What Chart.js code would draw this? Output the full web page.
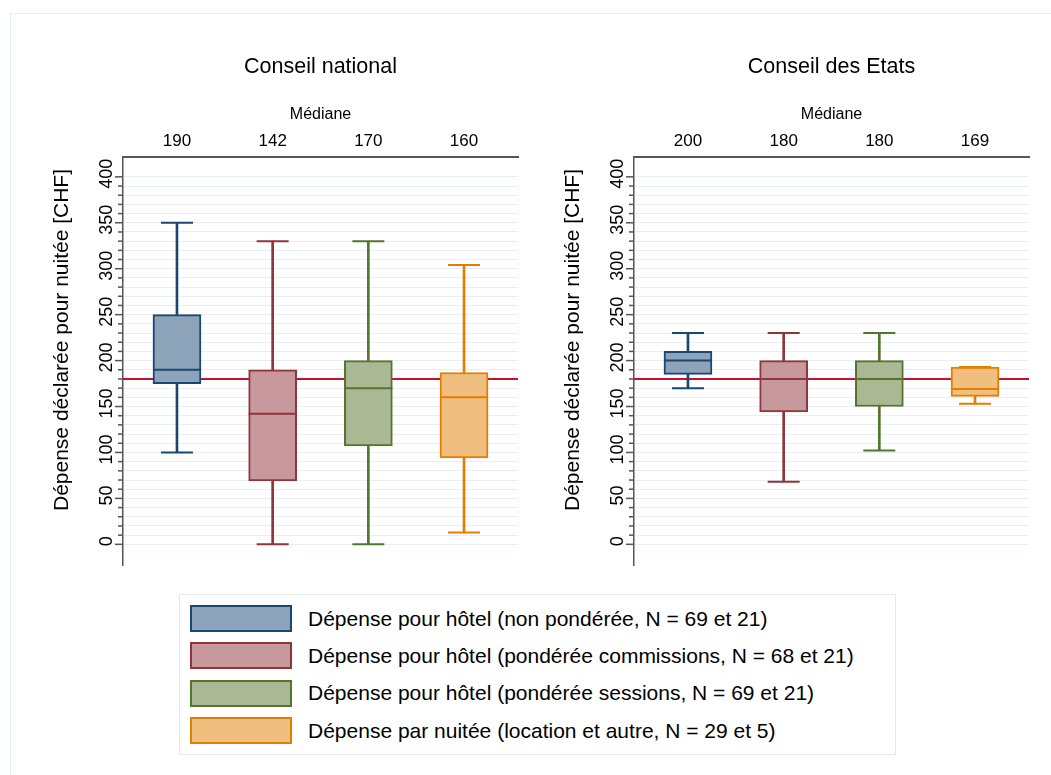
<!DOCTYPE html>
<html>
<head>
<meta charset="utf-8">
<script src="https://cdn.jsdelivr.net/npm/chart.js@4.4.1/dist/chart.umd.min.js"></script>
<style>
  body { margin: 0; background: #fff; font-family: 'Liberation Sans', Arial, sans-serif; }
  #page { position: relative; width: 1051px; height: 775px; overflow: hidden; background: #fff; }
  #frame { position: absolute; left: 10px; top: 13px; width: 1100px; height: 800px; border: 1px solid #e8eeee; }
  .panel { position: absolute; top: 0; width: 530px; height: 580px; }
  .panel canvas { display: block; }
  #legend { position: absolute; left: 179px; top: 594px; width: 715px; height: 159px; border: 1px solid #e2e9e9; background: #fff; }
  .item { position: absolute; left: 10px; height: 27px; display: flex; align-items: center; white-space: nowrap; }
  .swatch { width: 98px; height: 23px; border: 2px solid; margin-right: 16px; }
  .item span { font-size: 21px; color: #000; }
</style>
</head>
<body>
<div id="page">
  <div id="frame"></div>
  <div class="panel" style="left:0px"><canvas id="cn" width="530" height="580"></canvas></div>
  <div class="panel" style="left:511px"><canvas id="ce" width="530" height="580"></canvas></div>
  <div id="legend"></div>
</div>
<script>
// Données
const positions = [1, 2, 3, 4];
const seriesLabels = [
  'Dépense pour hôtel (non pondérée, N = 69 et 21)',
  'Dépense pour hôtel (pondérée commissions, N = 68 et 21)',
  'Dépense pour hôtel (pondérée sessions, N = 69 et 21)',
  'Dépense par nuitée (location et autre, N = 29 et 5)'
];
const panelTitles = ['Conseil national', 'Conseil des Etats'];

// Conseil national
const cnMin = [100, 0, 0, 13];
const cnQ1 = [175, 69, 107, 94];
const cnMedian = [190, 142, 170, 160];
const cnQ3 = [250, 190, 200, 187];
const cnMax = [350, 330, 330, 304];

// Conseil des Etats
const ceMin = [170, 68, 102, 153];
const ceQ1 = [185, 144, 150, 161];
const ceMedian = [200, 180, 180, 169];
const ceQ3 = [210, 200, 200, 193];
const ceMax = [230, 230, 230, 193];

const referenceLine = 180;
const yLabelTicks = [0, 50, 100, 150, 200, 250, 300, 350, 400];
const yGridTicks = [0, 10, 20, 30, 40, 50, 60, 70, 80, 90, 100, 110, 120, 130, 140, 150, 160, 170, 180, 190,
  200, 210, 220, 230, 240, 250, 260, 270, 280, 290, 300, 310, 320, 330, 340, 350, 360, 370, 380, 390, 400];
const yTitle = 'Dépense déclarée pour nuitée [CHF]';

// Couleurs
const lineColors = ['#1a476f', '#90353b', '#55752f', '#e37e00'];
const fillColors = ['#8ca3b9', '#c8999c', '#aab894', '#f0bf7f'];
const refColor = '#c8102e';
const axisColor = '#555555';
const gridColor = '#e7eff0';
const FONT = "'Liberation Sans', Arial, sans-serif";

const X_MIN = 0.436, X_MAX = 4.564;

// axe Y dessiné à la main (étiquettes verticales, petites graduations)
const yAxisDecor = {
  id: 'yAxisDecor',
  afterDraw(chart) {
    const ctx = chart.ctx;
    const y = chart.scales.y;
    const left = chart.chartArea.left;
    ctx.save();
    ctx.strokeStyle = axisColor;
    ctx.lineWidth = 1.5;
    yGridTicks.forEach(v => {
      const py = y.getPixelForValue(v);
      const len = yLabelTicks.includes(v) ? 8 : 5;
      ctx.beginPath();
      ctx.moveTo(left - len, py);
      ctx.lineTo(left, py);
      ctx.stroke();
    });
    ctx.fillStyle = '#000';
    ctx.font = '18px ' + FONT;
    ctx.textAlign = 'center';
    ctx.textBaseline = 'alphabetic';
    yLabelTicks.forEach(v => {
      const py = y.getPixelForValue(v) - 3;
      ctx.save();
      ctx.translate(left - 11.5, py);
      ctx.rotate(-Math.PI / 2);
      ctx.fillText(String(v), 0, 0);
      ctx.restore();
    });
    ctx.font = '21px ' + FONT;
    ctx.save();
    ctx.translate(left - 55, 340);
    ctx.rotate(-Math.PI / 2);
    ctx.fillText(yTitle, 0, 0);
    ctx.restore();
    ctx.restore();
  }
};

function makePanel(id, title, mins, q1, medians, q3, maxs) {
  const ctx = document.getElementById(id).getContext('2d');
  const capPoints = [];
  const capColors = [];
  positions.forEach((p, i) => {
    capPoints.push({x: p, y: mins[i]}, {x: p, y: maxs[i]});
    capColors.push(lineColors[i], lineColors[i]);
  });

  return new Chart(ctx, {
    type: 'bar',
    data: {
      datasets: [
        {
          type: 'line',
          data: [{x: X_MIN, y: referenceLine}, {x: X_MAX, y: referenceLine}],
          borderColor: refColor,
          borderWidth: 2,
          pointRadius: 0,
          order: 5
        },
        {
          // moustaches
          data: positions.map((p, i) => ({x: p, y: [mins[i], maxs[i]]})),
          backgroundColor: lineColors,
          borderWidth: 0,
          barThickness: 2,
          grouped: false,
          categoryPercentage: 1,
          barPercentage: 1,
          order: 4
        },
        {
          // boites
          data: positions.map((p, i) => ({x: p, y: [q1[i], q3[i]]})),
          backgroundColor: fillColors,
          borderColor: lineColors,
          borderWidth: 2,
          borderSkipped: false,
          barThickness: 48,
          grouped: false,
          categoryPercentage: 1,
          barPercentage: 1,
          order: 3
        },
        {
          type: 'line',
          data: capPoints,
          showLine: false,
          pointStyle: 'line',
          pointRadius: 16,
          pointBorderWidth: 2,
          pointBorderColor: capColors,
          order: 2
        },
        {
          type: 'line',
          data: positions.map((p, i) => ({x: p, y: medians[i]})),
          showLine: false,
          pointStyle: 'line',
          pointRadius: 24,
          pointBorderWidth: 2,
          pointBorderColor: lineColors,
          order: 1
        }
      ]
    },
    options: {
      responsive: false,
      animation: false,
      events: [],
      layout: { autoPadding: false, padding: { left: 0, right: 12, top: 0, bottom: 15 } },
      scales: {
        x: {
          type: 'linear',
          position: 'top',
          offset: false,
          min: X_MIN,
          max: X_MAX,
          afterBuildTicks: axis => { axis.ticks = positions.map(v => ({value: v})); },
          afterFit: axis => { axis.height = 76.8; },
          ticks: {
            autoSkip: false,
            maxRotation: 0,
            padding: 5.6,
            color: '#000',
            font: { family: FONT, size: 17 },
            callback: (v, i) => String(medians[i])
          },
          grid: { display: false, offset: false, drawTicks: false, tickLength: 0 },
          border: { display: true, color: axisColor, width: 2 },
          title: {
            display: true,
            text: 'Médiane',
            color: '#000',
            font: { family: FONT, size: 16 },
            padding: { top: 25.2, bottom: 0 }
          }
        },
        y: {
          type: 'linear',
          min: -22.5,
          max: 421.6,
          afterBuildTicks: axis => { axis.ticks = yGridTicks.map(v => ({value: v})); },
          afterFit: axis => { axis.width = 123; },
          ticks: { display: false },
          grid: { color: gridColor, lineWidth: 1, drawTicks: false, tickLength: 0 },
          border: { display: true, color: axisColor, width: 1.5 }
        }
      },
      plugins: {
        legend: { display: false },
        tooltip: { enabled: false },
        title: {
          display: true,
          text: title,
          fullSize: false,
          color: '#000',
          font: { family: FONT, size: 21.5, weight: 'normal' },
          padding: { top: 54.4, bottom: 0 }
        }
      }
    },
    plugins: [yAxisDecor]
  });
}

makePanel('cn', panelTitles[0], cnMin, cnQ1, cnMedian, cnQ3, cnMax);
makePanel('ce', panelTitles[1], ceMin, ceQ1, ceMedian, ceQ3, ceMax);

// légende
const legend = document.getElementById('legend');
const rowTops = [10, 47.3, 84.7, 122];
seriesLabels.forEach((label, i) => {
  const item = document.createElement('div');
  item.className = 'item';
  item.style.top = rowTops[i] + 'px';
  const sw = document.createElement('div');
  sw.className = 'swatch';
  sw.style.background = fillColors[i];
  sw.style.borderColor = lineColors[i];
  const txt = document.createElement('span');
  txt.textContent = label;
  item.appendChild(sw);
  item.appendChild(txt);
  legend.appendChild(item);
});
</script>
</body>
</html>
